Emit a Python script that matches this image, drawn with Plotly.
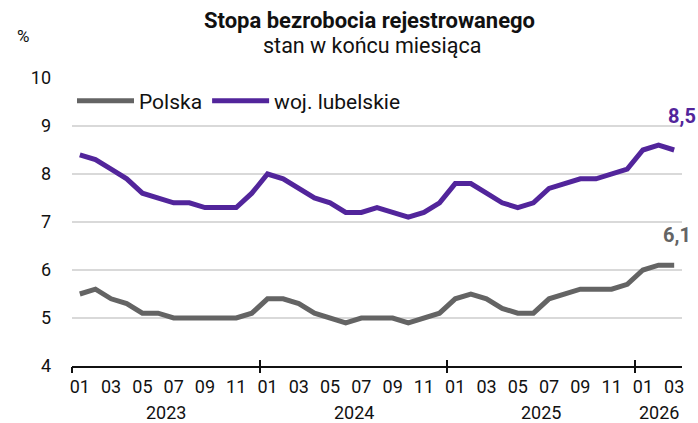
import plotly.graph_objects as go

# monthly registered unemployment rate, Jan 2023 - Mar 2026
months = ['01', '02', '03', '04', '05', '06', '07', '08', '09', '10', '11', '12'] * 3 + ['01', '02', '03']
polska = [5.5, 5.6, 5.4, 5.3, 5.1, 5.1, 5.0, 5.0, 5.0, 5.0, 5.0, 5.1,
          5.4, 5.4, 5.3, 5.1, 5.0, 4.9, 5.0, 5.0, 5.0, 4.9, 5.0, 5.1,
          5.4, 5.5, 5.4, 5.2, 5.1, 5.1, 5.4, 5.5, 5.6, 5.6, 5.6, 5.7,
          6.0, 6.1, 6.1]
lubelskie = [8.4, 8.3, 8.1, 7.9, 7.6, 7.5, 7.4, 7.4, 7.3, 7.3, 7.3, 7.6,
             8.0, 7.9, 7.7, 7.5, 7.4, 7.2, 7.2, 7.3, 7.2, 7.1, 7.2, 7.4,
             7.8, 7.8, 7.6, 7.4, 7.3, 7.4, 7.7, 7.8, 7.9, 7.9, 8.0, 8.1,
             8.5, 8.6, 8.5]
years = ['2023', '2024', '2025', '2026']
year_start = [0, 12, 24, 36]
year_len = [12, 12, 12, 3]

GRAY = '#646464'
PURPLE = '#52259b'
FONT = 'Roboto, sans-serif'

idx = list(range(len(months)))
label_idx = [i for i in idx if int(months[i]) % 2 == 1]
label_txt = [months[i] for i in label_idx]
bounds = [s - 0.5 for s in year_start]
xr = [-0.5, len(months) - 0.5]


def pl(v):
    return ('%.1f' % v).replace('.', ',')


fig = go.Figure()
fig.add_trace(go.Scatter(x=idx, y=polska, mode='lines', name='Polska',
                         line=dict(color=GRAY, width=5)))
fig.add_trace(go.Scatter(x=idx, y=lubelskie, mode='lines', name='woj. lubelskie',
                         line=dict(color=PURPLE, width=5)))

# year labels centred under each year
for y, s, n in zip(years, year_start, year_len):
    fig.add_annotation(x=s + (n - 1) / 2, y=0, yref='paper', text=y, showarrow=False,
                       yanchor='middle', yshift=-46, font=dict(size=18, color='#111'))

# last values
fig.add_annotation(x=idx[-1], y=lubelskie[-1], text='<b>%s</b>' % pl(lubelskie[-1]),
                   showarrow=False, yshift=34, xshift=8,
                   font=dict(size=20, color=PURPLE))
fig.add_annotation(x=idx[-1], y=polska[-1], text='<b>%s</b>' % pl(polska[-1]),
                   showarrow=False, yshift=30, xshift=3,
                   font=dict(size=20, color=GRAY))

fig.add_annotation(x=0.5, xref='paper', y=1, yref='paper', yanchor='middle', yshift=58,
                   text='<b>Stopa bezrobocia rejestrowanego</b>', showarrow=False,
                   xshift=-8, font=dict(size=22, color='#111'))
fig.add_annotation(x=0.5, xref='paper', y=1, yref='paper', yanchor='middle', yshift=33,
                   text='stan w końcu miesiąca', showarrow=False,
                   xshift=-5, font=dict(size=21.5, color='#111'))
fig.add_annotation(x=0, xref='paper', y=1, yref='paper', yanchor='middle', yshift=42,
                   xshift=-57, text='%', showarrow=False, font=dict(size=17, color='#111'))

fig.update_layout(
    width=698, height=423,
    margin=dict(l=72, r=16, t=78, b=57),
    paper_bgcolor='white', plot_bgcolor='white',
    font=dict(family=FONT, size=18, color='#111'),
    showlegend=True,
    legend=dict(orientation='h', x=0, y=0.92, xanchor='left', yanchor='middle',
                bgcolor='rgba(0,0,0,0)', font=dict(size=21), itemwidth=57,
                tracegroupgap=0),
    xaxis=dict(range=xr, tickmode='array', tickvals=label_idx, ticktext=label_txt,
               ticks='', showgrid=False, zeroline=False, showline=True,
               linecolor='#111', linewidth=2, tickfont=dict(size=18),
               ticklabelstandoff=3),
    xaxis2=dict(range=xr, overlaying='x', anchor='y', side='bottom', tickmode='array',
                tickvals=bounds, ticks='outside', ticklen=6, tickwidth=2, tickcolor='#111',
                showticklabels=False, showgrid=False, zeroline=False, showline=False),
    xaxis3=dict(range=xr, overlaying='x', anchor='y', side='bottom', tickmode='array',
                tickvals=bounds, ticks='inside', ticklen=6, tickwidth=2, tickcolor='#111',
                showticklabels=False, showgrid=False, zeroline=False, showline=False),
    yaxis=dict(range=[4, 10], tickvals=[4, 5, 6, 7, 8, 9, 10], showgrid=True,
               gridcolor='#d9d9d9', gridwidth=2, zeroline=False, ticks='',
               ticklabelstandoff=20, tickfont=dict(size=18)),
)
# invisible traces so the overlay axes are drawn
fig.add_trace(go.Scatter(x=[None], y=[None], xaxis='x2', showlegend=False, hoverinfo='skip'))
fig.add_trace(go.Scatter(x=[None], y=[None], xaxis='x3', showlegend=False, hoverinfo='skip'))

fig.write_html('out.html', config={'displayModeBar': False},
               post_script="document.body.style.margin='0';")
